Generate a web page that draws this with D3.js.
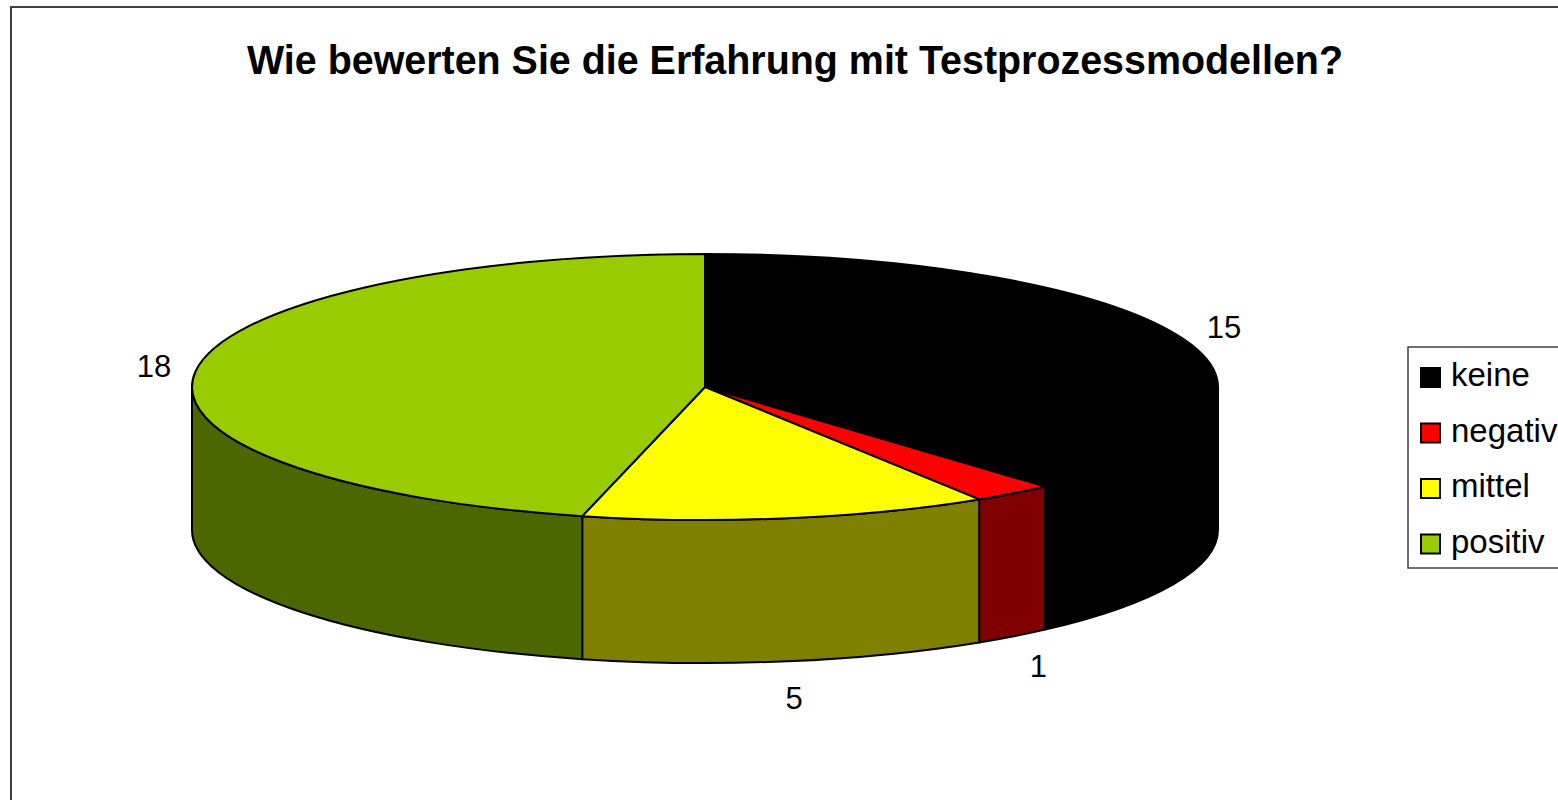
<!DOCTYPE html>
<html>
<head>
<meta charset="utf-8">
<script src="https://cdn.jsdelivr.net/npm/d3@7"></script>
<style>
  body { margin: 0; background: #fff; overflow: hidden; }
  text { font-family: "Liberation Sans", Arial, sans-serif; }
</style>
</head>
<body>
<div id="chart"></div>
<script>
// Data
var categories = ["keine", "negativ", "mittel", "positiv"];
var values = [15, 1, 5, 18];
var topColors = ["#000000", "#FF0000", "#FFFF00", "#99CC00"];
var sideColors = ["#000000", "#800000", "#808000", "#4C6600"];
var title = "Wie bewerten Sie die Erfahrung mit Testprozessmodellen?";

// Dimensions
var svgWidth = 1558;
var svgHeight = 800;

var cx = 705, cy = 387;   // centre of top ellipse
var rx = 513, ry = 133;   // ellipse radii
var depth = 143;          // height of pie wall
var labelRx = 555, labelRy = 170;

var svg = d3.select("#chart")
    .append("svg")
    .attr("width", svgWidth)
    .attr("height", svgHeight);

// chart area border (runs off right/bottom edge)
svg.append("rect")
    .attr("x", 11)
    .attr("y", 7)
    .attr("width", 1600)
    .attr("height", 900)
    .attr("fill", "#fff")
    .attr("stroke", "#404040")
    .attr("stroke-width", 2);

// Title
svg.append("text")
    .attr("x", 795)
    .attr("y", 74)
    .attr("text-anchor", "middle")
    .attr("font-size", 40)
    .attr("font-weight", "bold")
    .attr("textLength", 1096)
    .attr("lengthAdjust", "spacingAndGlyphs")
    .text(title);

// Pie angles, clockwise from 12 o'clock
var pie = d3.pie().sort(null).startAngle(0).endAngle(2 * Math.PI);
var arcs = pie(values);

function px(a) { return cx + rx * Math.sin(a); }
function py(a, dy) { return cy - ry * Math.cos(a) + (dy || 0); }

function topPath(d) {
    var large = (d.endAngle - d.startAngle) > Math.PI ? 1 : 0;
    return "M" + cx + "," + cy +
        "L" + px(d.startAngle) + "," + py(d.startAngle) +
        "A" + rx + "," + ry + " 0 " + large + " 1 " + px(d.endAngle) + "," + py(d.endAngle) +
        "Z";
}

// front wall: only the part facing the viewer (lower half of ellipse)
function sidePath(d) {
    var s = Math.max(d.startAngle, Math.PI / 2);
    var e = Math.min(d.endAngle, 3 * Math.PI / 2);
    if (s >= e) return null;
    return "M" + px(s) + "," + py(s) +
        "A" + rx + "," + ry + " 0 0 1 " + px(e) + "," + py(e) +
        "L" + px(e) + "," + py(e, depth) +
        "A" + rx + "," + ry + " 0 0 0 " + px(s) + "," + py(s, depth) +
        "Z";
}

var pieGroup = svg.append("g");

// walls first
pieGroup.selectAll(".side")
    .data(arcs.filter(function (d) { return sidePath(d) !== null; }))
    .enter()
    .append("path")
    .attr("class", "side")
    .attr("d", sidePath)
    .attr("fill", function (d) { return sideColors[d.index]; })
    .attr("stroke", "#000")
    .attr("stroke-width", 2)
    .attr("stroke-linejoin", "round");

// top faces
pieGroup.selectAll(".top")
    .data(arcs)
    .enter()
    .append("path")
    .attr("class", "top")
    .attr("d", topPath)
    .attr("fill", function (d) { return topColors[d.index]; })
    .attr("stroke", "#000")
    .attr("stroke-width", 2)
    .attr("stroke-linejoin", "round");

// data labels outside each slice
pieGroup.selectAll(".lbl")
    .data(arcs)
    .enter()
    .append("text")
    .attr("class", "lbl")
    .attr("x", function (d) {
        var m = (d.startAngle + d.endAngle) / 2;
        return cx + labelRx * Math.sin(m);
    })
    .attr("y", function (d) {
        var m = (d.startAngle + d.endAngle) / 2;
        var y = cy - labelRy * Math.cos(m);
        if (Math.cos(m) < 0) y += depth;
        return y;
    })
    .attr("dy", "0.35em")
    .attr("text-anchor", "middle")
    .attr("font-size", 31)
    .text(function (d) { return d.data; });

// Legend
var legend = svg.append("g");

legend.append("rect")
    .attr("x", 1408)
    .attr("y", 347)
    .attr("width", 300)
    .attr("height", 221)
    .attr("fill", "#fff")
    .attr("stroke", "#404040")
    .attr("stroke-width", 1.5);

var item = legend.selectAll(".item")
    .data(categories)
    .enter()
    .append("g")
    .attr("class", "item")
    .attr("transform", function (d, i) { return "translate(1421," + (368 + i * 55.5) + ")"; });

item.append("rect")
    .attr("width", 19)
    .attr("height", 19)
    .attr("fill", function (d, i) { return topColors[i]; })
    .attr("stroke", "#000")
    .attr("stroke-width", 2);

item.append("text")
    .attr("x", 30)
    .attr("y", 18)
    .attr("font-size", 33)
    .text(function (d) { return d; });
</script>
</body>
</html>
